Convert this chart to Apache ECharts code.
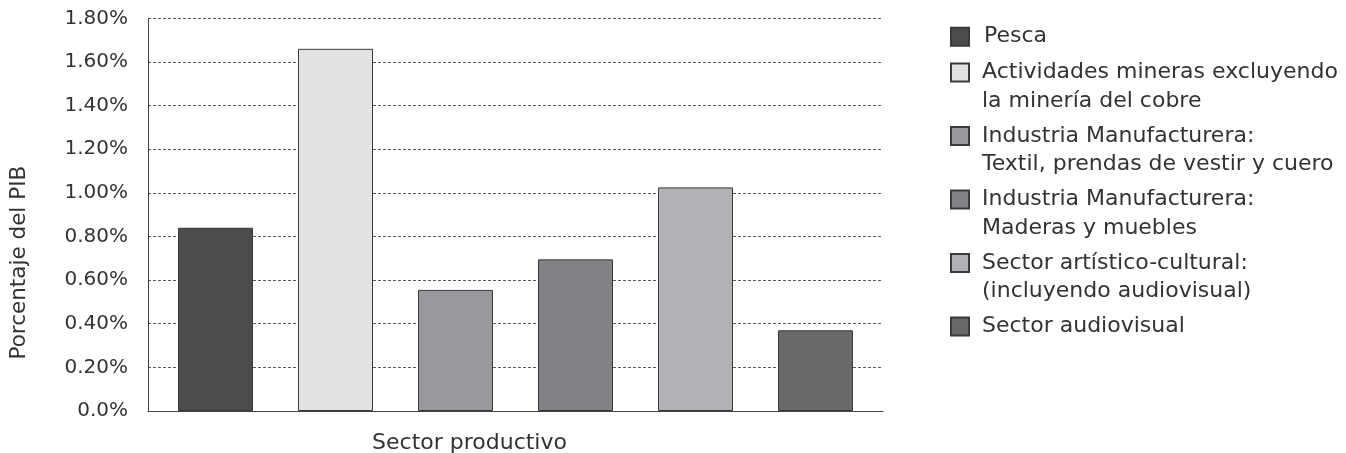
<!DOCTYPE html>
<html>
<head>
<meta charset="utf-8">
<script src="https://cdn.jsdelivr.net/npm/echarts@6/dist/echarts.min.js"></script>
<style>
  html, body { margin: 0; padding: 0; background: #ffffff; }
  #chart { width: 1346px; height: 453px; }
</style>
</head>
<body>
<div id="chart"></div>
<script>
// Share of GDP (%) by productive sector
const sectors = [
  'Pesca',
  'Actividades mineras excluyendo\nla minería del cobre',
  'Industria Manufacturera:\nTextil, prendas de vestir y cuero',
  'Industria Manufacturera:\nMaderas y muebles',
  'Sector artístico-cultural:\n(incluyendo audiovisual)',
  'Sector audiovisual'
];
const shareOfGdp = [0.84, 1.66, 0.555, 0.695, 1.025, 0.37];
const sectorColors = ['#4b4c4e', '#e1e2e4', '#98999c', '#818285', '#b1b2b5', '#69696b'];
const yTickLabels = ['0.0%', '0.20%', '0.40%', '0.60%', '0.80%', '1.00%', '1.20%', '1.40%', '1.60%', '1.80%'];

const FONT = 'DejaVu Sans';
const TEXT = '#333333';
const LINE_H = 28.5;

const yMin = 0, yMax = 1.8, yStep = 0.2;

// One bar series per sector; all overlap the same slot so each category shows its own bar
const series = sectors.map((name, i) => ({
  name: name,
  type: 'bar',
  xAxisIndex: 1,
  yAxisIndex: 1,
  barWidth: 75,
  barGap: '-100%',
  itemStyle: { color: sectorColors[i], borderColor: '#3a3a3a', borderWidth: 1 },
  emphasis: { disabled: true },
  data: shareOfGdp.map((v, j) => (j === i ? v : '-'))
}));

// The first legend entry is a single line; the others get a blank line above
// (and below, for single-line names) so each swatch lines up with the first text line
const legendData = sectors.map((name, i) => ({
  name: name,
  textStyle: { padding: i === 0 ? [3, 0, 1.4, 10] : [3, 0, 0, 8] }
}));
const legendLabel = (name) => {
  if (name === sectors[0]) return name;
  const lines = name.split('\n');
  return lines.length === 2 ? '\n' + name : '\n' + name + '\n';
};

const chart = echarts.init(document.getElementById('chart'), null, { renderer: 'canvas' });
chart.setOption({
  animation: false,
  backgroundColor: '#ffffff',
  textStyle: { fontFamily: FONT },
  grid: [
    { left: 148, top: 18.3, width: 735, height: 392.7, containLabel: false, outerBoundsMode: 'none' },
    { left: 155.5, top: 18.3, width: 720, height: 392.7, containLabel: false, outerBoundsMode: 'none' }
  ],
  legend: {
    orient: 'vertical',
    left: 950,
    top: 20.25,
    padding: 0,
    itemGap: -25,
    itemWidth: 18,
    itemHeight: 18,
    icon: 'rect',
    selectedMode: false,
    data: legendData,
    formatter: legendLabel,
    textStyle: { fontFamily: FONT, fontSize: 22, color: TEXT, lineHeight: LINE_H }
  },
  xAxis: [
    {
      gridIndex: 0,
      type: 'value',
      min: 0,
      max: 1,
      name: 'Sector productivo',
      nameLocation: 'middle',
      nameGap: 21,
      nameTextStyle: { fontFamily: FONT, fontSize: 22, color: TEXT, padding: [0, 92, 0, 0] },
      axisLine: { show: true, lineStyle: { color: '#444444', width: 1 } },
      axisTick: { show: false },
      axisLabel: { show: false },
      splitLine: { show: false }
    },
    {
      gridIndex: 1,
      type: 'category',
      data: sectors,
      axisLine: { show: false },
      axisTick: { show: false },
      axisLabel: { show: false },
      splitLine: { show: false }
    }
  ],
  yAxis: [
    {
      gridIndex: 0,
      type: 'value',
      min: yMin,
      max: yMax,
      interval: yStep,
      name: 'Porcentaje del PIB',
      nameLocation: 'middle',
      nameGap: 118,
      nameTextStyle: { fontFamily: FONT, fontSize: 21.5, color: TEXT, padding: [0, 96, 0, 0] },
      axisLine: { show: true, lineStyle: { color: '#444444', width: 1 } },
      axisTick: { show: false },
      axisLabel: {
        margin: 20,
        fontFamily: FONT,
        fontSize: 20,
        color: TEXT,
        formatter: (v) => yTickLabels[Math.round((v - yMin) / yStep)]
      },
      splitLine: { show: true, lineStyle: { color: '#5a5a5a', width: 1, type: [3, 2] } }
    },
    {
      gridIndex: 1,
      type: 'value',
      min: yMin,
      max: yMax,
      interval: yStep,
      axisLine: { show: false },
      axisTick: { show: false },
      axisLabel: { show: false },
      splitLine: { show: false }
    }
  ],
  series: series
});
</script>
</body>
</html>
